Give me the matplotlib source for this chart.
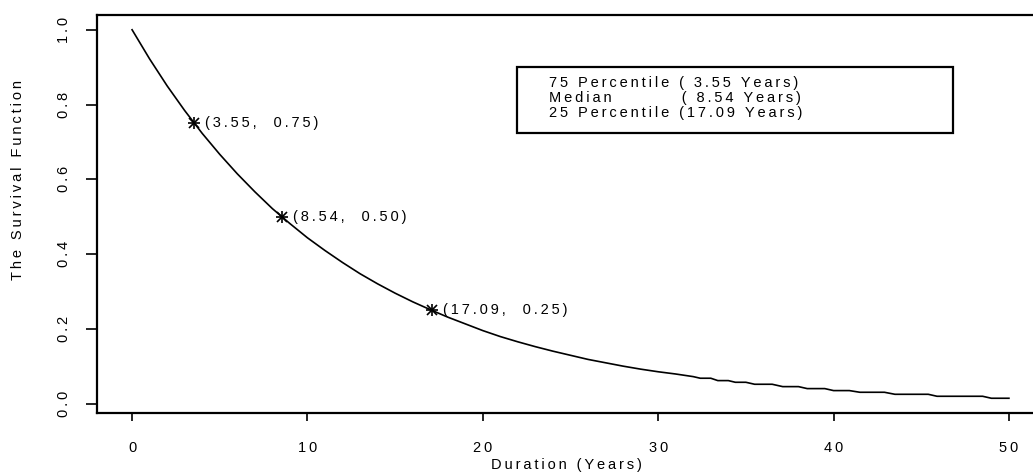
import matplotlib
matplotlib.use("Agg")
import matplotlib.pyplot as plt
from matplotlib.patches import Rectangle

# ---- data ----
years = [0, 1, 2, 3, 4, 5, 6, 7, 8, 9, 10, 11, 12, 13, 14, 15, 16, 17, 18, 19,
         20, 21, 22, 23, 24, 25, 26, 27, 28, 29, 30, 31, 32,
         32.4, 33.0, 33.4, 34.0, 34.4, 35.0, 35.5, 36.5, 37.1, 38.0, 38.5, 39.5,
         40.0, 40.9, 41.5, 42.9, 43.5, 45.4, 45.9, 48.5, 49.0, 50.0]
survival = [1.000, 0.922, 0.850, 0.784, 0.723, 0.667, 0.615, 0.567, 0.522, 0.482,
            0.444, 0.410, 0.378, 0.348, 0.321, 0.296, 0.273, 0.252, 0.232, 0.214,
            0.196, 0.180, 0.166, 0.153, 0.141, 0.130, 0.119, 0.110, 0.101, 0.093,
            0.086, 0.080, 0.073,
            0.0687, 0.0687, 0.0624, 0.0624, 0.0579, 0.0579, 0.0526, 0.0526,
            0.0463, 0.0463, 0.0410, 0.0410, 0.0357, 0.0357, 0.0312, 0.0312,
            0.0258, 0.0258, 0.0205, 0.0205, 0.0152, 0.0152]

pct_x = [3.55, 8.54, 17.09]
pct_y = [0.75, 0.50, 0.25]
pct_names = ["75 Percentile", "Median", "25 Percentile"]

x_ticks = [0, 10, 20, 30, 40, 50]
y_ticks = [0.0, 0.2, 0.4, 0.6, 0.8, 1.0]

TS = "\u2009"  # thin space for letter spacing
def sp(s):
    return TS.join(list(s))

FAM = ["Liberation Sans", "DejaVu Sans"]
FS = 10.5

W, H = 1033, 472
fig = plt.figure(figsize=(W / 100, H / 100), dpi=100)
# axes box in pixels: left 97, right 1044 (cropped), top 15, bottom 413
l, r, t, b = 97, 1044, 15, 413
ax = fig.add_axes([l / W, 1 - b / H, (r - l) / W, (b - t) / H])

ax.plot(years, survival, color="black", lw=1.2)
for px, py in zip(pct_x, pct_y):
    ax.plot(px, py, marker="+", ms=9, mew=1.2, color="black")
    ax.plot(px, py, marker="x", ms=7, mew=1.2, color="black")
    ax.annotate(sp(f"({px:.2f},  {py:.2f})"), (px, py), xytext=(8, 0),
                textcoords="offset points", va="center", ha="left",
                fontsize=FS, family=FAM)

ax.set_xlim(-2, 52)
ax.set_ylim(0.0152 - 0.0394, 1.0394)

ax.set_xticks(x_ticks)
ax.set_xticklabels([sp(str(v)) for v in x_ticks], family=FAM, fontsize=FS)
ax.set_yticks(y_ticks)
ax.set_yticklabels([sp(f"{v:.1f}") for v in y_ticks], family=FAM, fontsize=FS,
                   rotation=90, va="center")
ax.tick_params(axis="x", direction="out", length=6, width=1.2, pad=14)
ax.tick_params(axis="y", direction="out", length=8, width=1.2, pad=11)

for s in ax.spines.values():
    s.set_linewidth(1.6)

fig.text(18 / W, 1 - 180 / H, sp("The Survival Function"), rotation=90,
         ha="center", va="center", family=FAM, fontsize=FS)
fig.text(566 / W, 1 - 465 / H, sp("Duration (Years)"), ha="center", va="center",
         family=FAM, fontsize=FS)

# legend box
bx0, by0, bx1, by1 = 517, 67, 953, 133
fig.patches.append(Rectangle((bx0 / W, 1 - by1 / H), (bx1 - bx0) / W, (by1 - by0) / H,
                             transform=fig.transFigure, fill=False, lw=1.6,
                             edgecolor="black"))
leg_lines = [
    sp(f"{pct_names[0]} ({pct_x[0]:5.2f} Years)"),
    sp(f"{pct_names[1]}") + "                 " + sp(f"({pct_x[1]:5.2f} Years)"),
    sp(f"{pct_names[2]} ({pct_x[2]:5.2f} Years)"),
]
for i, line in enumerate(leg_lines):
    fig.text(549 / W, 1 - (83 + 15 * i) / H, line, ha="left", va="center",
             family=FAM, fontsize=FS)

fig.savefig("out.png", dpi=100)
